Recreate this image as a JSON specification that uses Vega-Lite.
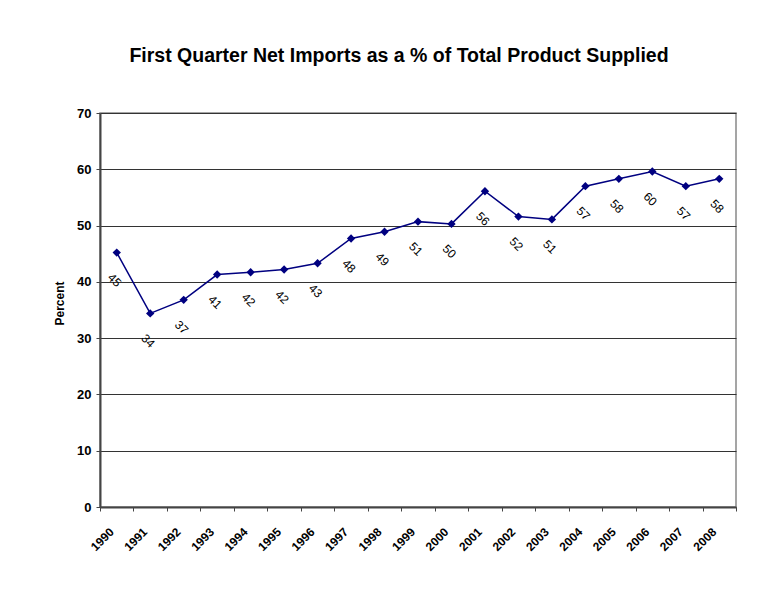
{
  "$schema": "https://vega.github.io/schema/vega-lite/v6.json",
  "width": 636,
  "height": 394,
  "autosize": "none",
  "padding": {"left": 100, "top": 113, "right": 47, "bottom": 91},
  "background": "white",
  "title": {
    "text": "First Quarter Net Imports as a % of Total Product Supplied",
    "fontSize": 19.5,
    "fontWeight": "bold",
    "font": "Liberation Sans",
    "color": "#000000",
    "anchor": "middle",
    "offset": 41,
    "dx": -19
  },
  "data": {
    "values": [
      {"year": "1990", "value": 45.2},
      {"year": "1991", "value": 34.4},
      {"year": "1992", "value": 36.8},
      {"year": "1993", "value": 41.3},
      {"year": "1994", "value": 41.7},
      {"year": "1995", "value": 42.2},
      {"year": "1996", "value": 43.3},
      {"year": "1997", "value": 47.7},
      {"year": "1998", "value": 48.9},
      {"year": "1999", "value": 50.7},
      {"year": "2000", "value": 50.3},
      {"year": "2001", "value": 56.1},
      {"year": "2002", "value": 51.6},
      {"year": "2003", "value": 51.1},
      {"year": "2004", "value": 57.0},
      {"year": "2005", "value": 58.3},
      {"year": "2006", "value": 59.6},
      {"year": "2007", "value": 57.0},
      {"year": "2008", "value": 58.3}
    ]
  },
  "encoding": {
    "x": {
      "field": "year",
      "type": "ordinal",
      "bandPosition": 0.5,
      "scale": {"type": "band", "paddingInner": 0, "paddingOuter": 0},
      "axis": {
        "title": null,
        "labelAngle": -45,
        "labelAlign": "right",
        "labelBaseline": "top",
        "labelOffset": -9,
        "labelPadding": 15,
        "labelFontWeight": "bold",
        "labelFontSize": 12,
        "labelColor": "#000000",
        "tickBand": "extent",
        "tickExtra": true,
        "tickSize": 4,
        "tickColor": "#444444",
        "domainColor": "#444444",
        "domainWidth": 2,
        "grid": false
      }
    },
    "y": {
      "field": "value",
      "type": "quantitative",
      "scale": {"domain": [0, 70], "nice": false},
      "axis": {
        "title": "Percent",
        "titleFontWeight": "bold",
        "titleFontSize": 12,
        "titleColor": "#000000",
        "titleAngle": -90,
        "titleX": -41,
        "titleY": 190,
        "titleAlign": "center",
        "titleBaseline": "middle",
        "values": [0, 10, 20, 30, 40, 50, 60, 70],
        "labelFontWeight": "bold",
        "labelFontSize": 13,
        "labelColor": "#000000",
        "labelPadding": 5,
        "tickSize": 4,
        "tickColor": "#444444",
        "domainColor": "#444444",
        "domainWidth": 2,
        "grid": true,
        "gridColor": "#333333",
        "gridWidth": 1
      }
    }
  },
  "layer": [
    {"mark": {"type": "line", "color": "#000080", "strokeWidth": 1.5}},
    {"mark": {"type": "point", "shape": "diamond", "filled": true, "color": "#000080", "size": 70, "opacity": 1}},
    {
      "mark": {"type": "text", "angle": 45, "dx": 18, "dy": 21, "align": "center", "baseline": "middle", "fontSize": 12, "color": "#000000", "font": "Liberation Sans"},
      "encoding": {"text": {"field": "value", "type": "quantitative", "format": ".0f"}}
    }
  ],
  "config": {
    "font": "Liberation Sans",
    "view": {"stroke": "#888888", "strokeWidth": 1.5},
    "axis": {"labelFont": "Liberation Sans", "titleFont": "Liberation Sans"}
  }
}
